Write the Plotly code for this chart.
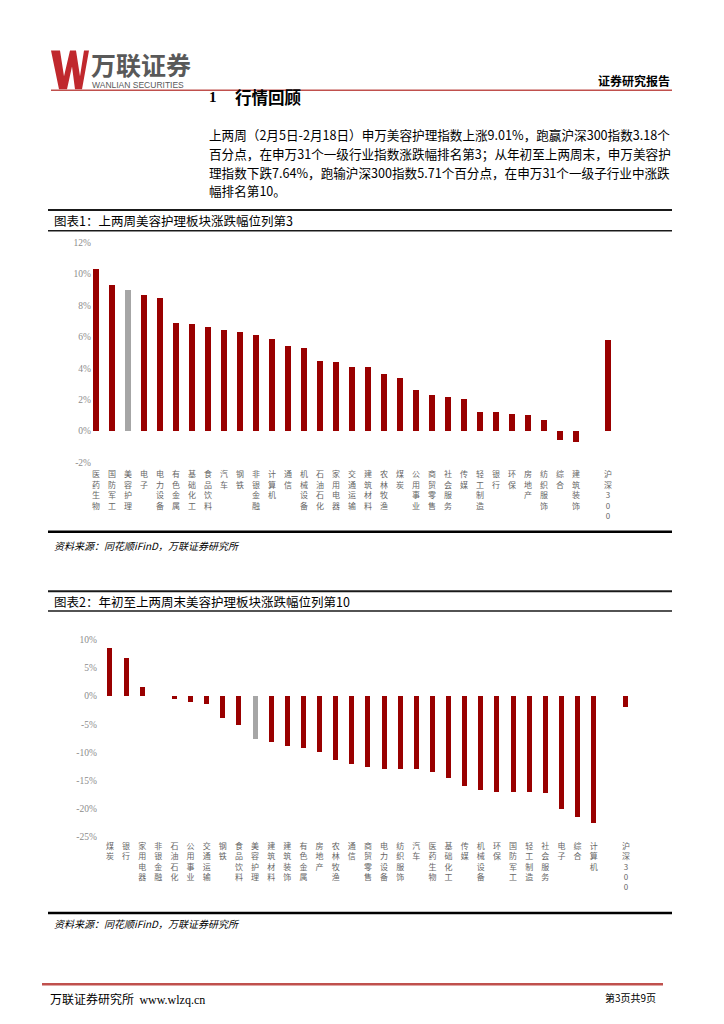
import plotly.graph_objects as go

# ---------------- data ----------------
cats1 = ["医药生物", "国防军工", "美容护理", "电子", "电力设备", "有色金属", "基础化工", "食品饮料",
         "汽车", "钢铁", "非银金融", "计算机", "通信", "机械设备", "石油石化", "家用电器",
         "交通运输", "建筑材料", "农林牧渔", "煤炭", "公用事业", "商贸零售", "社会服务", "传媒",
         "轻工制造", "银行", "环保", "房地产", "纺织服饰", "综合", "建筑装饰"]
vals1 = [10.34, 9.30, 9.01, 8.69, 8.45, 6.91, 6.82, 6.61,
         6.44, 6.29, 6.10, 5.85, 5.40, 5.32, 4.45, 4.41,
         4.07, 4.05, 3.62, 3.37, 2.63, 2.29, 2.14, 2.06,
         1.21, 1.19, 1.06, 1.02, 0.68, -0.59, -0.70]
bench1 = 5.83

cats2 = ["煤炭", "银行", "家用电器", "非银金融", "石油石化", "公用事业", "交通运输", "钢铁",
         "食品饮料", "美容护理", "建筑材料", "建筑装饰", "有色金属", "房地产", "农林牧渔", "通信",
         "商贸零售", "电力设备", "纺织服饰", "汽车", "医药生物", "基础化工", "传媒", "机械设备",
         "环保", "国防军工", "轻工制造", "社会服务", "电子", "综合", "计算机"]
vals2 = [8.47, 6.82, 1.59, 0.06, -0.47, -1.12, -1.35, -3.88,
         -5.06, -7.64, -8.12, -8.94, -9.29, -9.88, -11.35, -12.00,
         -12.60, -12.88, -12.88, -13.00, -13.47, -14.47, -16.00, -16.76,
         -17.00, -17.12, -17.12, -17.24, -20.00, -21.40, -22.60]
bench2 = -1.93

bench_name = "沪深300"
highlight = "美容护理"
yticks1 = [-2, 0, 2, 4, 6, 8, 10, 12]
yticks2 = [-25, -20, -15, -10, -5, 0, 5, 10]

# ---------------- helpers ----------------
W, H = 724, 1024
RED = "#990000"
GRAY = "#A6A6A6"
CJK = "Noto Sans CJK SC"


def px(x):
    return x / W


def py(y):
    return 1 - y / H


def stack(s):
    return "<br>".join(list(s))


def build(cats, vals, bench):
    n = len(cats)
    xs = list(range(n)) + [n + 1]
    ys = list(vals) + [bench]
    labels = list(cats) + [bench_name]
    colors = [GRAY if c == highlight else RED for c in cats] + [RED]
    return xs, ys, labels, colors


x1, y1, lab1, col1 = build(cats1, vals1, bench1)
x2, y2, lab2, col2 = build(cats2, vals2, bench2)

fig = go.Figure()
fig.add_trace(go.Bar(x=x1, y=y1, marker=dict(color=col1, line=dict(width=0)), width=0.33,
                     xaxis="x", yaxis="y", showlegend=False, hoverinfo="skip"))
fig.add_trace(go.Bar(x=x2, y=y2, marker=dict(color=col2, line=dict(width=0)), width=0.31,
                     xaxis="x2", yaxis="y2", showlegend=False, hoverinfo="skip"))

xtickfont = dict(family=CJK, size=8, color="#666666")
ytickfont = dict(family="Liberation Serif", size=9.5, color="#8C8C8C")

fig.update_layout(
    width=W, height=H, margin=dict(l=0, r=0, t=0, b=0),
    paper_bgcolor="white", plot_bgcolor="white",
    bargap=0,
    xaxis=dict(domain=[px(92), px(616)], range=[-0.25, 32.5], tickvals=x1,
               ticktext=[stack(l) for l in lab1], tickangle=0, showgrid=False, zeroline=False,
               showline=False, ticks="", tickfont=xtickfont, anchor="y", fixedrange=True,
               ticklabelstandoff=6),
    yaxis=dict(domain=[py(462), py(240)], range=[-2, 12], tickvals=yticks1,
               ticktext=[f"{v}%" for v in yticks1],
               showgrid=False, zeroline=False, showline=False, ticks="", tickfont=ytickfont,
               anchor="x", fixedrange=True),
    xaxis2=dict(domain=[px(97.9), px(634)], range=[-0.75, 32.5], tickvals=x2,
                ticktext=[stack(l) for l in lab2], tickangle=0, showgrid=False, zeroline=False,
                showline=False, ticks="", tickfont=xtickfont, anchor="y2", fixedrange=True,
                ticklabelstandoff=3),
    yaxis2=dict(domain=[py(840), py(641)], range=[-25, 10], tickvals=yticks2,
                ticktext=[f"{v}%" for v in yticks2],
                showgrid=False, zeroline=False, showline=False, ticks="", tickfont=ytickfont,
                anchor="x2", fixedrange=True),
)

shapes = []


def hline(y, x0, x1_, color, width):
    shapes.append(dict(type="line", xref="paper", yref="paper", x0=px(x0), x1=px(x1_),
                       y0=py(y), y1=py(y), line=dict(color=color, width=width)))


hline(86, 51, 672, "#C0504D", 1.5)
hline(207, 48, 672, "#1A1A1A", 2)
hline(228, 48, 672, "#1A1A1A", 1.5)
hline(532, 48, 672, "#000000", 2.5)
hline(592, 48, 672, "#1A1A1A", 2)
hline(612, 48, 672, "#1A1A1A", 1.5)
hline(917, 48, 672, "#000000", 2.5)
hline(989, 42, 663, "#C0504D", 2.5)

# logo W
pts = [(51, 46), (60, 46), (64, 72), (70, 46), (76, 46), (80, 72), (84, 46), (89, 46),
       (82, 85), (75, 85), (72, 62), (67, 85), (59, 85)]
path = "M " + " L ".join(f"{px(a):.5f},{py(b):.5f}" for a, b in pts) + " Z"
shapes.append(dict(type="path", xref="paper", yref="paper", path=path,
                   fillcolor="#C0282D", line=dict(width=0)))
fig.update_layout(shapes=shapes)

annos = []


def text(x, y, s, size, color="#000000", family=CJK, anchor="left", weight="normal", style="normal"):
    annos.append(dict(xref="paper", yref="paper", x=px(x), y=py(y), text=s, showarrow=False,
                      xanchor=anchor, yanchor="middle",
                      font=dict(family=family, size=size, color=color, weight=weight, style=style)))


text(89, 60, "万联证券", 25, "#595959", weight="bold")
text(90, 80.5, "WANLIAN SECURITIES", 8.5, "#595959", family="Liberation Sans")
text(672, 76, "证券研究报告", 12, "#000000", anchor="right", weight="bold")
text(207, 93, "1", 15, "#000000", family="Liberation Serif", weight="bold")
text(233, 93, "行情回顾", 16.5, "#000000", weight="bold")

para = ["上两周（2月5日-2月18日）申万美容护理指数上涨9.01%，跑赢沪深300指数3.18个",
        "百分点，在申万31个一级行业指数涨跌幅排名第3；从年初至上两周末，申万美容护",
        "理指数下跌7.64%，跑输沪深300指数5.71个百分点，在申万31个一级子行业中涨跌",
        "幅排名第10。"]
for yy, line in zip([131, 150, 169, 187], para):
    text(207, yy, line, 12.6, "#000000")

text(52, 217.5, "图表1：上两周美容护理板块涨跌幅位列第3", 12.5, "#000000")
text(52, 546, "资料来源：同花顺iFinD，万联证券研究所", 10, "#000000", style="italic")
text(52, 602.5, "图表2：年初至上两周末美容护理板块涨跌幅位列第10", 12.5, "#000000")
text(52, 928, "资料来源：同花顺iFinD，万联证券研究所", 10, "#000000", style="italic")
text(48, 1003, "万联证券研究所  <span style='font-family:Liberation Serif'>www.wlzq.cn</span>", 12, "#000000")
text(658, 1002, "第3页共9页", 10, "#000000", anchor="right")

fig.update_layout(annotations=annos)

fig.write_html("out.html", config={"displayModeBar": False, "staticPlot": True},
               post_script="document.body.style.margin='0';document.body.style.overflow='hidden';")
